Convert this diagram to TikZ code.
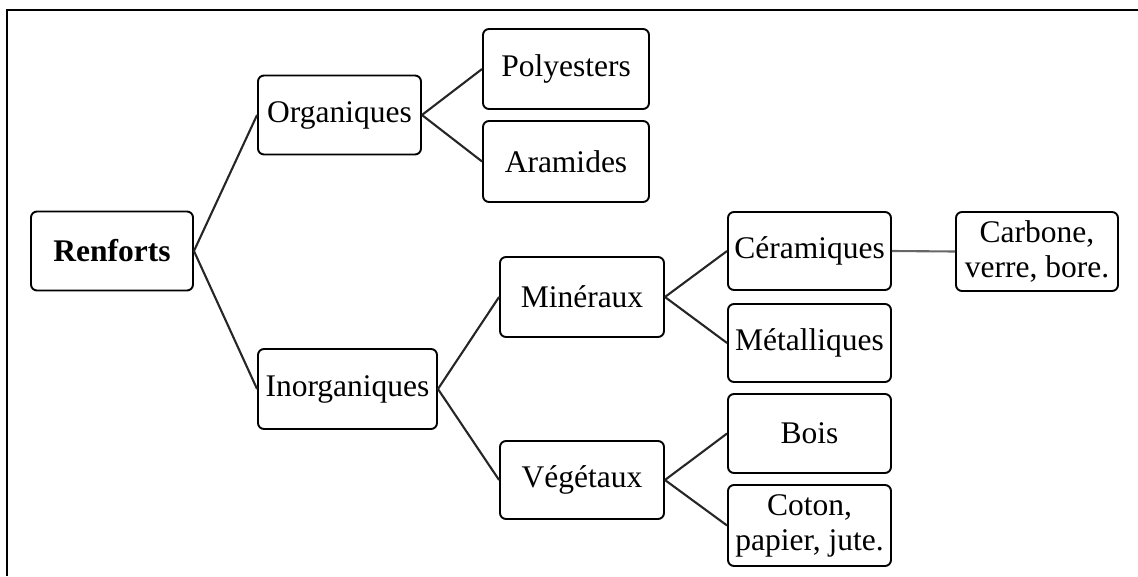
\documentclass[tikz,border=0pt]{standalone}
\usepackage{fontspec}
\setmainfont{Liberation Serif}

\begin{document}
\begin{tikzpicture}[x=1pt, y=-1pt, line width=1.9pt,
    box/.style={draw, rounded corners=6pt, align=center, inner sep=2pt,
      minimum width=163pt, minimum height=79pt,
      font=\fontsize{31.5}{35}\selectfont},
    link/.style={line width=2.1pt, draw=black!85}]

  % === Frame ===
  \useasboundingbox (0, 0) rectangle (1138, 576);
  \draw[line width=2.4pt] (7, 576) -- (7, 10) -- (1138, 10);

  % === Level 0 ===
  \node[box, minimum width=162pt] (ren) at (112, 251) {\textbf{Renforts}};

  % === Level 1 ===
  \node[box] (org) at (339.5, 115) {Organiques};
  \node[box, minimum width=179pt, minimum height=80pt] (inorg) at (347.5, 389) {Inorganiques};

  % === Level 2 ===
  \node[box, minimum width=166pt, minimum height=80pt] (poly) at (566, 69) {Polyesters};
  \node[box, minimum width=166pt, minimum height=81pt] (ara) at (566, 161.5) {Aramides};
  \node[box, minimum width=164pt, minimum height=80pt] (min) at (582, 297) {Minéraux};
  \node[box, minimum width=164pt, minimum height=78pt] (veg) at (582, 480) {Végétaux};

  % === Level 3 ===
  \node[box, minimum height=78pt] (cer) at (809.5, 251) {Céramiques};
  \node[box, minimum height=78pt] (met) at (809.5, 343) {Métalliques};
  \node[box] (bois) at (809.5, 433.5) {Bois};
  \node[box, minimum height=81pt] (coton) at (809.5, 525.5) {Coton,\\papier, jute.};

  % === Level 4 ===
  \node[box, minimum width=162pt] (carb) at (1037, 251.5) {Carbone,\\verre, bore.};

  % === Connectors ===
  \draw[link] (ren.east) -- (org.west);
  \draw[link] (ren.east) -- (inorg.west);
  \draw[link] (org.east) -- (poly.west);
  \draw[link] (org.east) -- (ara.west);
  \draw[link] (inorg.east) -- (min.west);
  \draw[link] (inorg.east) -- (veg.west);
  \draw[link] (min.east) -- (cer.west);
  \draw[link] (min.east) -- (met.west);
  \draw[link] (veg.east) -- (bois.west);
  \draw[link] (veg.east) -- (coton.west);
  \draw[link, draw=black!60] (cer.east) -- (carb.west);

\end{tikzpicture}
\end{document}
